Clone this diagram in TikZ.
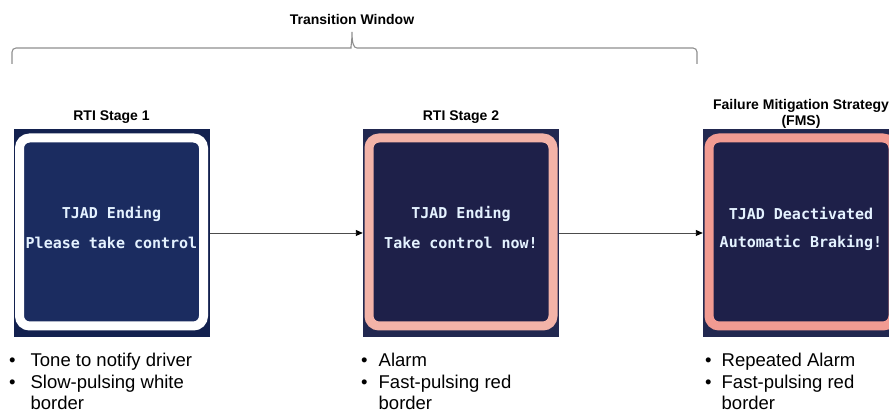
\documentclass[tikz,border=0pt]{standalone}
\usepackage{fontspec}
\setmainfont{Liberation Sans}
\newfontfamily\lcdfont{DejaVu Sans Mono}
\usetikzlibrary{arrows.meta, positioning}
\definecolor{navyA}{HTML}{1B2C60}
\definecolor{navyB}{HTML}{1E2049}
\definecolor{bezelA}{HTML}{13214F}
\definecolor{bezelB}{HTML}{222850}
\definecolor{pinkA}{HTML}{F3B3A8}
\definecolor{pinkB}{HTML}{F29B92}
\definecolor{lcdtext}{HTML}{E4F2FF}
\definecolor{cbrace}{HTML}{8F8F8F}

\begin{document}
\begin{tikzpicture}[
  x=1pt, y=1pt,
  title/.style={font=\fontsize{14}{16}\selectfont\bfseries, align=center, inner sep=0pt},
  bezelbox/.style={minimum width=196pt, minimum height=208pt, inner sep=0pt},
  ringbox/.style={minimum width=184pt, minimum height=188pt, rounded corners=10pt,
                  line width=9pt, inner sep=0pt},
  lcd/.style={font=\lcdfont\bfseries\fontsize{15}{17}\selectfont, text=lcdtext, inner sep=0pt},
  notes/.style={font=\fontsize{18.5}{21.5}\selectfont, anchor=base west, inner sep=0pt},
  flow/.style={draw=black!70, line width=0.9pt,
               -{Triangle[length=7pt, width=6pt, color=black]}},
  brace line/.style={draw=cbrace, line width=1.1pt},
]
\useasboundingbox (0,0) rectangle (889,414);
% Window across the first two stages
\node[title] (win) at (352,394.5) {Transition Window};
\coordinate (wl) at (12,350);
\coordinate (wr) at (697,350);
\coordinate (wt) at (352,382);
\draw[brace line] (wl) [rounded corners=4pt] |- (347,366) [sharp corners]
  .. controls (350.5,366) and (352,371) .. (wt)
  .. controls (352,371) and (353.5,366) .. (357,366) [rounded corners=4pt] -| (wr);
% Screens
\foreach \n/\x/\ty/\bc/\rc/\fc/\tx/\lineA/\lineB in {
  1/111.5/297/bezelA/white/navyA/{RTI Stage 1}/{TJAD Ending}/{Please take control},
  2/461/297/bezelB/pinkA/navyB/{RTI Stage 2}/{TJAD Ending}/{Take control now!},
  3/801/300/bezelB/pinkB/navyB/{Failure Mitigation Strategy\\(FMS)}/{TJAD Deactivated}/{Automatic Braking!}%
}{
  \node[title] (t\n) at (\x,\ty) {\tx};
  \node[bezelbox, fill=\bc] (s\n) at (\x,181) {};
  \node[ringbox, draw=\rc, fill=\fc] (r\n) at (\x,182) {};
  \node[lcd] (a\n) at (\x,200) {\lineA};
  \node[lcd] (b\n) at (\x,171) {\lineB};
}
% Stage transitions
\draw[flow] (s1) -- (s2);
\draw[flow] (s2) -- (s3);
% Notes under each screen
\foreach \n/\x/\gap/\itemA/\itemB in {
  1/9/15/Tone to notify driver/Slow-pulsing white,
  2/361/11/Alarm/Fast-pulsing red,
  3/705/10/Repeated Alarm/Fast-pulsing red%
}{
  \node[notes] (n\n) at (\x,47) {\begin{tabular}[t]{@{}l@{\hspace{\gap pt}}l@{}}
    \textbullet & \itemA\\ \textbullet & \itemB\\ & border\end{tabular}};
}
\end{tikzpicture}
\end{document}
